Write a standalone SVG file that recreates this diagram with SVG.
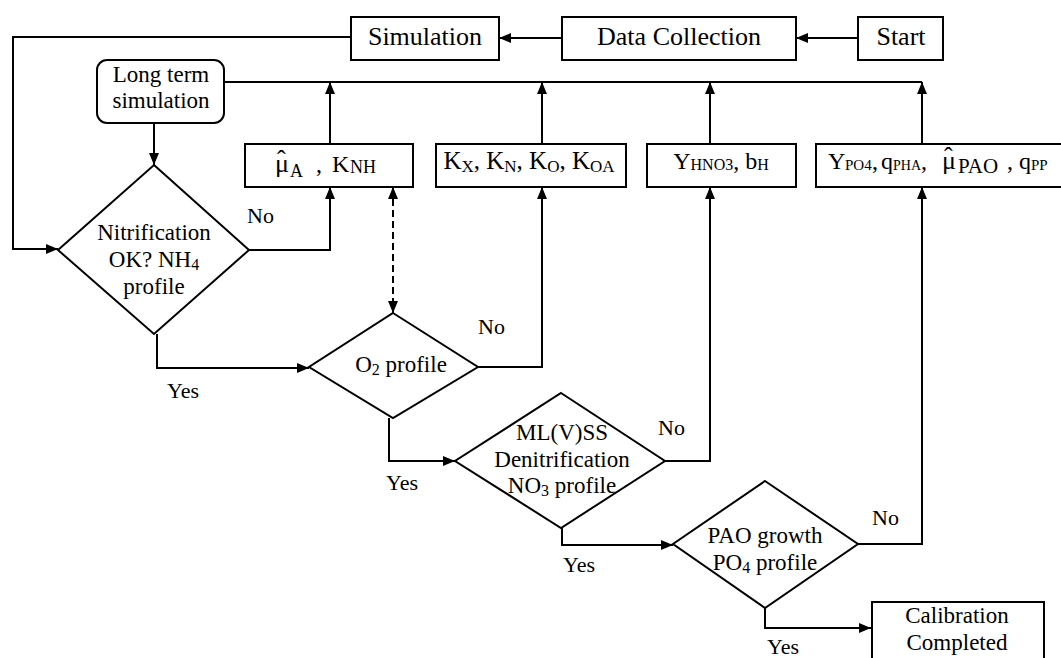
<svg xmlns="http://www.w3.org/2000/svg" width="1061" height="658" viewBox="0 0 1061 658">
<defs>
<marker id="ah" viewBox="0 0 12 10" refX="12" refY="5" markerWidth="12" markerHeight="10" markerUnits="userSpaceOnUse" orient="auto-start-reverse">
<path d="M0,0 L12,5 L0,10 z" fill="#000"/>
</marker>
<style>
.box{fill:#fff;stroke:#000;stroke-width:2}
.ln{fill:none;stroke:#000;stroke-width:2}
.ar{fill:none;stroke:#000;stroke-width:2;marker-end:url(#ah)}
.t{fill:#000;text-anchor:middle}
.big{font-size:26px}
.md{font-size:23px}
.lb{fill:#000;font-size:22px}
.sb{font-size:16px}
</style>
</defs>
<rect width="1061" height="658" fill="#fff"/>
<g id="connectors">
<line class="ar" x1="858" y1="38" x2="796" y2="38"/>
<line class="ar" x1="562" y1="38" x2="499" y2="38"/>
<polyline class="ar" points="351,37 13,37 13,249 58,249"/>
<line class="ln" x1="224" y1="82" x2="922" y2="82"/>
<line class="ar" x1="330" y1="144" x2="330" y2="82"/>
<line class="ar" x1="542" y1="144" x2="542" y2="82"/>
<line class="ar" x1="710" y1="144" x2="710" y2="82"/>
<line class="ar" x1="922" y1="144" x2="922" y2="82"/>
<line class="ar" x1="154" y1="123" x2="154" y2="165"/>
<polyline class="ar" points="249,250 330,250 330,187"/>
<polyline class="ar" points="157,334 157,368 309,368"/>
<line class="ln" x1="393" y1="199" x2="393" y2="301" stroke-dasharray="7,4"/>
<line class="ar" x1="393" y1="300" x2="393" y2="313"/>
<line class="ar" x1="393" y1="200" x2="393" y2="187"/>
<polyline class="ar" points="478,367 542,367 542,187"/>
<polyline class="ar" points="389,418 389,461 455,461"/>
<polyline class="ar" points="665,461 710,461 710,187"/>
<polyline class="ar" points="562,523 562,545 673,545"/>
<polyline class="ar" points="858,544 922,544 922,187"/>
<polyline class="ar" points="765,608 765,628 871,628"/>
</g>
<g font-family="Liberation Serif, serif">
<g id="start">
<rect class="box" x="858" y="17" width="85" height="43"/>
<text class="t big" x="901" y="45">Start</text>
</g>
<g id="data-collection">
<rect class="box" x="562" y="17" width="234" height="43"/>
<text class="t big" x="679" y="45">Data Collection</text>
</g>
<g id="simulation">
<rect class="box" x="351" y="17" width="148" height="43"/>
<text class="t big" x="425" y="45">Simulation</text>
</g>
<g id="long-term">
<rect class="box" x="97" y="60" width="127" height="63" rx="10"/>
<text class="t md" x="161" y="82">Long term</text>
<text class="t md" x="161" y="108">simulation</text>
</g>
<g id="p-nitrification">
<rect class="box" x="245" y="144" width="168" height="43"/>
<text font-size="26" y="172"><tspan x="277" dy="-4">ˆ</tspan><tspan x="275" dy="4">μ</tspan><tspan x="290" font-size="18" dy="5">A</tspan><tspan x="316" dy="-5" font-size="24">,</tspan><tspan x="332" font-size="24">K</tspan><tspan x="350" font-size="18" dy="1">NH</tspan></text>
</g>
<g id="p-oxygen">
<rect class="box" x="436" y="144" width="190" height="43"/>
<text class="t" font-size="25" x="529" y="169">K<tspan font-size="17" dy="3">X</tspan><tspan dy="-3">, K</tspan><tspan font-size="17" dy="3">N</tspan><tspan dy="-3">, K</tspan><tspan font-size="17" dy="3">O</tspan><tspan dy="-3">, K</tspan><tspan font-size="17" dy="3">OA</tspan></text>
</g>
<g id="p-denitrification">
<rect class="box" x="647" y="144" width="149" height="43"/>
<text class="t" font-size="24" x="721" y="169">Y<tspan font-size="16" dy="1">HNO3</tspan><tspan dy="-1">, b</tspan><tspan font-size="16" dy="1">H</tspan></text>
</g>
<g id="p-pao">
<rect class="box" x="816" y="144" width="260" height="43"/>
<text font-size="24" y="169"><tspan x="828">Y</tspan><tspan x="845" font-size="15" dy="1">PO4</tspan><tspan x="872" dy="-1">,</tspan><tspan x="881">q</tspan><tspan x="893" font-size="14" dy="1">PHA</tspan><tspan x="921" dy="-1">,</tspan><tspan x="944" font-size="26" dy="-4">ˆ</tspan><tspan x="942" font-size="26" dy="4">μ</tspan><tspan x="958" font-size="21" dy="4">PAO</tspan><tspan x="1007" dy="-4">,</tspan><tspan x="1019">q</tspan><tspan x="1031" font-size="15" dy="1">PP</tspan></text>
</g>
<g id="d-nitrification">
<polygon class="box" points="154,165 249,250 154,334 58,250"/>
<text class="t md" x="154" y="240">Nitrification</text>
<text class="t md" x="154" y="267">OK? NH<tspan class="sb" dy="3">4</tspan></text>
<text class="t md" x="154" y="294">profile</text>
</g>
<g id="d-oxygen">
<polygon class="box" points="393,313 478,367 393,418 309,367"/>
<text class="t md" x="401" y="372">O<tspan class="sb" dy="3">2</tspan><tspan dy="-3"> profile</tspan></text>
</g>
<g id="d-denitrification">
<polygon class="box" points="561,393 665,461 561,528 455,461"/>
<text class="t md" x="562" y="440">ML(V)SS</text>
<text class="t md" x="562" y="467">Denitrification</text>
<text class="t md" x="562" y="493">NO<tspan class="sb" dy="3">3</tspan><tspan dy="-3"> profile</tspan></text>
</g>
<g id="d-pao">
<polygon class="box" points="765,481 858,544 765,608 673,544"/>
<text class="t md" x="765" y="543">PAO growth</text>
<text class="t md" x="765" y="570">PO<tspan class="sb" dy="3">4</tspan><tspan dy="-3"> profile</tspan></text>
</g>
<g id="calibration">
<rect class="box" x="872" y="602" width="172" height="70"/>
<text class="t md" x="957" y="623">Calibration</text>
<text class="t md" x="957" y="650">Completed</text>
</g>
<g id="labels">
<text class="lb" x="247" y="223">No</text>
<text class="lb" x="478" y="334">No</text>
<text class="lb" x="658" y="435">No</text>
<text class="lb" x="872" y="525">No</text>
<text class="lb" x="167" y="398">Yes</text>
<text class="lb" x="386" y="490">Yes</text>
<text class="lb" x="563" y="572">Yes</text>
<text class="lb" x="767" y="654">Yes</text>
</g>
</g>
</svg>
